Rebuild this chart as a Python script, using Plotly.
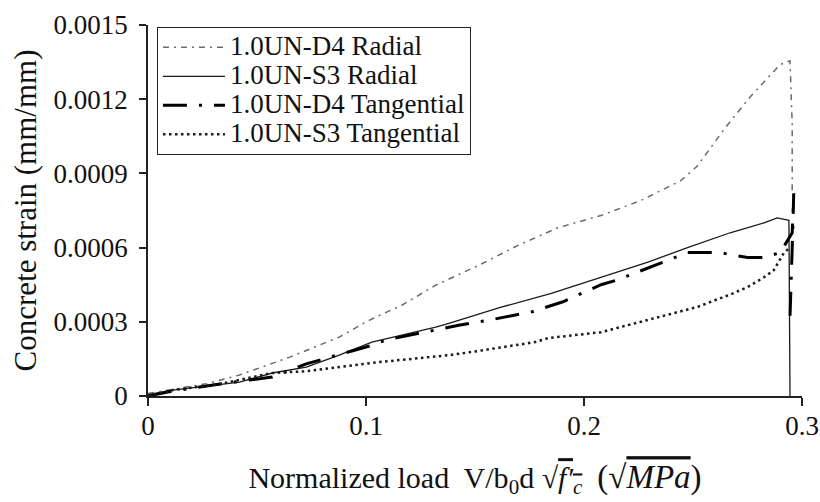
import plotly.graph_objects as go

# ---- data ----
d4_rad_x = [0, 0.027, 0.042, 0.065, 0.0877, 0.1014, 0.1164, 0.132, 0.1516, 0.17, 0.188, 0.2078,
            0.226, 0.2443, 0.252, 0.2644, 0.2763, 0.29, 0.2945, 0.2955, 0.2955]
d4_rad_y = [0.00001, 0.00005, 0.000085, 0.000157, 0.000238, 0.000306, 0.000367, 0.000448, 0.000528,
            0.00061, 0.00068, 0.00073, 0.00079, 0.00087, 0.00093, 0.00108, 0.00121, 0.00134,
            0.001355, 0.0011, 0.00082]

s3_rad_x = [0, 0.0114, 0.042, 0.057, 0.0726, 0.0877, 0.1027, 0.132, 0.138, 0.162, 0.185, 0.2078,
            0.229, 0.2475, 0.267, 0.2826, 0.2886, 0.294, 0.2945]
s3_rad_y = [0.000005, 0.000024, 0.000056, 0.000093, 0.000117, 0.000165, 0.000218, 0.000278,
            0.000294, 0.000359, 0.000415, 0.00048, 0.00054, 0.0006, 0.00066, 0.0007, 0.00072,
            0.00071, 0.0]

d4_tan_x = [0, 0.0114, 0.034, 0.057, 0.0726, 0.1027, 0.109, 0.1425, 0.156, 0.176, 0.19, 0.2078,
            0.2155, 0.236, 0.2475, 0.262, 0.275, 0.2826, 0.29, 0.2955, 0.2962, 0.2958, 0.2945]
d4_tan_y = [0.0, 0.00002, 0.00005, 0.000077, 0.00013, 0.000205, 0.000226, 0.000286, 0.000306,
            0.00034, 0.00038, 0.00045, 0.00047, 0.00054, 0.00058, 0.00058, 0.00056, 0.00056,
            0.00058, 0.00066, 0.00082, 0.00068, 0.00032]

s3_tan_x = [0, 0.0114, 0.034, 0.057, 0.0726, 0.0877, 0.106, 0.138, 0.15, 0.1776, 0.1836, 0.2078,
            0.229, 0.252, 0.26, 0.267, 0.275, 0.2826, 0.287, 0.29, 0.2918, 0.2945]
s3_tan_y = [0.0, 0.000024, 0.00005, 0.000093, 0.0001, 0.000117, 0.000137, 0.000165, 0.00018,
            0.000218, 0.000234, 0.000258, 0.000306, 0.00036, 0.000387, 0.00041, 0.00044, 0.00048,
            0.000508, 0.00055, 0.00058, 0.0006]

x_ticks = [0, 0.1, 0.2, 0.3]
x_tick_labels = ["0", "0.1", "0.2", "0.3"]
y_ticks = [0, 0.0003, 0.0006, 0.0009, 0.0012, 0.0015]
y_tick_labels = ["0", "0.0003", "0.0006", "0.0009", "0.0012", "0.0015"]

names = ["1.0UN-D4 Radial", "1.0UN-S3 Radial", "1.0UN-D4 Tangential", "1.0UN-S3 Tangential"]

FONT = "Liberation Serif, Times New Roman, serif"
LEG_TEXT = "<span style='font-size:27px'>%s</span>"

fig = go.Figure()
fig.add_trace(go.Scatter(x=d4_rad_x, y=d4_rad_y, mode="lines", name=LEG_TEXT % names[0],
                         line=dict(color="#6a6a6a", width=1.5, dash="6px,5px,2px,5px")))
fig.add_trace(go.Scatter(x=s3_rad_x, y=s3_rad_y, mode="lines", name=LEG_TEXT % names[1],
                         line=dict(color="#1a1a1a", width=1.3)))
fig.add_trace(go.Scatter(x=d4_tan_x, y=d4_tan_y, mode="lines", name=LEG_TEXT % names[2],
                         line=dict(color="#000000", width=3, dash="24px,12px,3px,12px")))
fig.add_trace(go.Scatter(x=s3_tan_x, y=s3_tan_y, mode="lines", name=LEG_TEXT % names[3],
                         line=dict(color="#1a1a1a", width=2.5, dash="2.5px,3.5px")))

xtitle = ("Normalized load  V/b<sub>0</sub>d √<span style='text-decoration:overline'>"
          "<i>f′<sub>c</sub></i></span>  "
          "<span style='font-size:33px'>(√<span style='text-decoration:overline'><i>MPa</i></span>)</span>")

fig.update_layout(
    width=820, height=502,
    margin=dict(l=148, r=18, t=25, b=106),
    paper_bgcolor="white", plot_bgcolor="white",
    font=dict(family=FONT, size=27, color="#111"),
    showlegend=True,
    legend=dict(x=0.0137, y=0.995, xanchor="left", yanchor="top",
                bgcolor="white", bordercolor="#222", borderwidth=1,
                font=dict(family=FONT, size=20, color="#111"),
                tracegroupgap=0, itemwidth=62),
    xaxis=dict(range=[0, 0.3], tickmode="array", tickvals=x_ticks, ticktext=x_tick_labels,
               showgrid=False, zeroline=False, showline=True, linecolor="#222", linewidth=1.5,
               ticks="outside", ticklen=8, tickwidth=1.5, tickcolor="#222",
               ticklabeloverflow="allow", ticklabelstandoff=-3, automargin=False,
               tickfont=dict(family=FONT, size=27),
               title=dict(text=xtitle, font=dict(family=FONT, size=30), standoff=27)),
    yaxis=dict(range=[0, 0.0015], tickmode="array", tickvals=y_ticks, ticktext=y_tick_labels,
               showgrid=False, zeroline=False, showline=True, linecolor="#222", linewidth=1.5,
               ticks="outside", ticklen=7, tickwidth=1.5, tickcolor="#222",
               ticklabelstandoff=6, automargin=False,
               tickfont=dict(family=FONT, size=27),
               title=dict(text="Concrete strain (mm/mm)", font=dict(family=FONT, size=31), standoff=8)),
)

fig.write_html("out.html", config={"displayModeBar": False},
               post_script="document.body.style.margin='0';")
